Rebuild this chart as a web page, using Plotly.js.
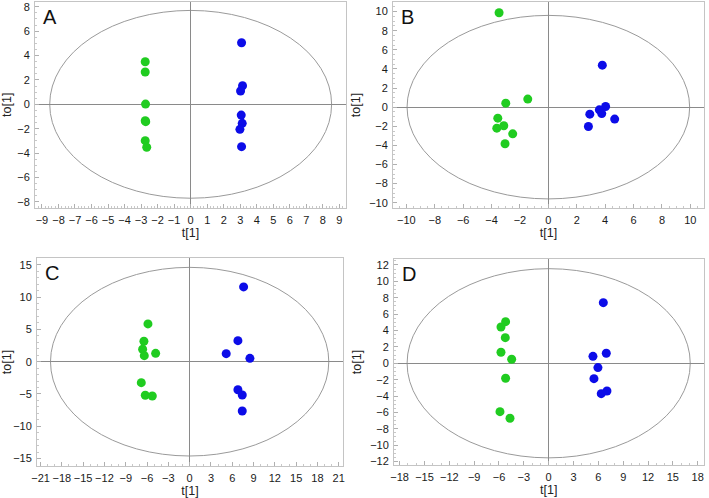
<!DOCTYPE html>
<html>
<head>
<meta charset="utf-8">
<script src="https://cdn.plot.ly/plotly-3.0.1.min.js"></script>
<style>html,body{margin:0;padding:0;background:#fff;}#chart{width:709px;height:498px;}</style>
</head>
<body>
<div id="chart"></div>
<script>
// Panel labels
const panelLabels = ["A", "B", "C", "D"];

// Panel A scores
const A_green_t  = [-2.75, -2.75, -2.73, -2.75, -2.72, -2.75, -2.66];
const A_green_to = [3.49, 2.65, 0.02, -1.35, -1.42, -2.98, -3.52];
const A_blue_t   = [3.08, 3.14, 3.02, 3.06, 3.12, 2.98, 3.08];
const A_blue_to  = [5.05, 1.52, 1.09, -0.88, -1.56, -2.05, -3.47];

// Panel B scores
const B_green_t  = [-3.47, -1.45, -3.0, -3.56, -3.63, -3.14, -2.51, -3.05];
const B_green_to = [9.88, 0.84, 0.42, -1.15, -2.2, -1.95, -2.79, -3.83];
const B_blue_t   = [3.8, 4.03, 3.59, 3.76, 2.92, 4.67, 2.82];
const B_blue_to  = [4.39, 0.07, -0.28, -0.67, -0.73, -1.25, -2.02];

// Panel C scores
const C_green_t  = [-5.87, -6.44, -6.62, -6.39, -4.79, -6.81, -6.25, -5.26];
const C_green_to = [5.84, 3.16, 1.92, 0.93, 1.29, -3.25, -5.2, -5.31];
const C_blue_t   = [7.6, 6.8, 5.15, 8.49, 6.8, 7.41, 7.41];
const C_blue_to  = [11.57, 3.25, 1.24, 0.52, -4.34, -5.16, -7.64];

// Panel D scores
const D_green_t  = [-5.2, -5.76, -5.24, -5.76, -4.47, -5.2, -5.88, -4.67];
const D_green_to = [5.08, 4.43, 3.13, 1.34, 0.49, -1.83, -5.91, -6.71];
const D_blue_t   = [6.6, 5.35, 6.96, 5.95, 5.47, 6.35, 7.04];
const D_blue_to  = [7.4, 0.85, 1.22, -0.53, -1.88, -3.71, -3.38];

// Hotelling T2 ellipse semi-axes [t, to]
const ellipseA = [8.53, 7.7];
const ellipseB = [9.95, 9.6];
const ellipseC = [19.6, 14.6];
const ellipseD = [17.1, 11.55];

const GREEN = "rgb(32,204,32)";
const BLUE = "rgb(12,12,232)";

const panels = [
  {lab: panelLabels[0], g: [A_green_t, A_green_to], b: [A_blue_t, A_blue_to], e: ellipseA,
   xr: [-9.42, 9.4], yr: [-8.46, 8.39], xd: 1, yd: 2, xdom: [35, 346], ydom: [2, 207.5]},
  {lab: panelLabels[1], g: [B_green_t, B_green_to], b: [B_blue_t, B_blue_to], e: ellipseB,
   xr: [-10.94, 10.96], yr: [-10.55, 11.0], xd: 2, yd: 2, xdom: [393, 704], ydom: [2, 208]},
  {lab: panelLabels[2], g: [C_green_t, C_green_to], b: [C_blue_t, C_blue_to], e: ellipseC,
   xr: [-21.5, 21.6], yr: [-16.1, 16.0], xd: 3, yd: 5, xdom: [37, 343], ydom: [258.3, 465.7]},
  {lab: panelLabels[3], g: [D_green_t, D_green_to], b: [D_blue_t, D_blue_to], e: ellipseD,
   xr: [-18.68, 18.7], yr: [-12.42, 12.73], xd: 3, yd: 2, xdom: [394, 703.5], ydom: [259, 465]}
];

const W = 709, H = 498;
const traces = [];
const layout = {
  width: W, height: H,
  margin: {l: 0, r: 0, t: 0, b: 0},
  paper_bgcolor: "#fff", plot_bgcolor: "#fff",
  showlegend: false,
  font: {family: "Liberation Sans, Arial, sans-serif", color: "#222", size: 11},
  shapes: [], annotations: []
};

panels.forEach((p, i) => {
  const n = i === 0 ? "" : String(i + 1);
  const xa = "x" + n, ya = "y" + n;
  const mk = (xy, c) => ({
    type: "scatter", mode: "markers", x: xy[0], y: xy[1], xaxis: xa, yaxis: ya,
    marker: {color: c, size: 9, line: {width: 0}}, hoverinfo: "x+y", cliponaxis: false
  });
  traces.push(mk(p.g, GREEN));
  traces.push(mk(p.b, BLUE));
  const common = {
    showgrid: false, zeroline: true, zerolinecolor: "#8a8a8a", zerolinewidth: 1,
    showline: true, linecolor: "#c4c4c4", linewidth: 1, mirror: true,
    ticks: "inside", ticklen: 4, tickcolor: "#b0b0b0", tickwidth: 1,
    minor: {ticks: "inside", ticklen: 2, tickcolor: "#c8c8c8"},
    tickfont: {size: 11, color: "#1a1a1a"}, tickangle: 0, fixedrange: true
  };
  layout["xaxis" + n] = Object.assign({}, common, {
    domain: [p.xdom[0] / W, p.xdom[1] / W], anchor: ya, range: p.xr, dtick: p.xd, tick0: 0,
    ticklabelstandoff: 2,
    title: {text: "t[1]", font: {size: 12.5}, standoff: 2}
  });
  layout["yaxis" + n] = Object.assign({}, common, {
    domain: [1 - p.ydom[1] / H, 1 - p.ydom[0] / H], anchor: xa, range: p.yr, dtick: p.yd, tick0: 0,
    ticklabelstandoff: 2,
    title: {text: "to[1]", font: {size: 12.5}, standoff: 5}
  });
  layout.shapes.push({
    type: "circle", xref: xa, yref: ya,
    x0: -p.e[0], x1: p.e[0], y0: -p.e[1], y1: p.e[1],
    line: {color: "#9a9a9a", width: 1}, layer: "below"
  });
  layout.annotations.push({
    text: p.lab, xref: xa + " domain", yref: ya + " domain", x: 0.018, y: 0.99,
    xanchor: "left", yanchor: "top", showarrow: false,
    font: {size: 20, color: "#111"}
  });
});

Plotly.newPlot("chart", traces, layout, {displayModeBar: false, staticPlot: true});
</script>
</body>
</html>
